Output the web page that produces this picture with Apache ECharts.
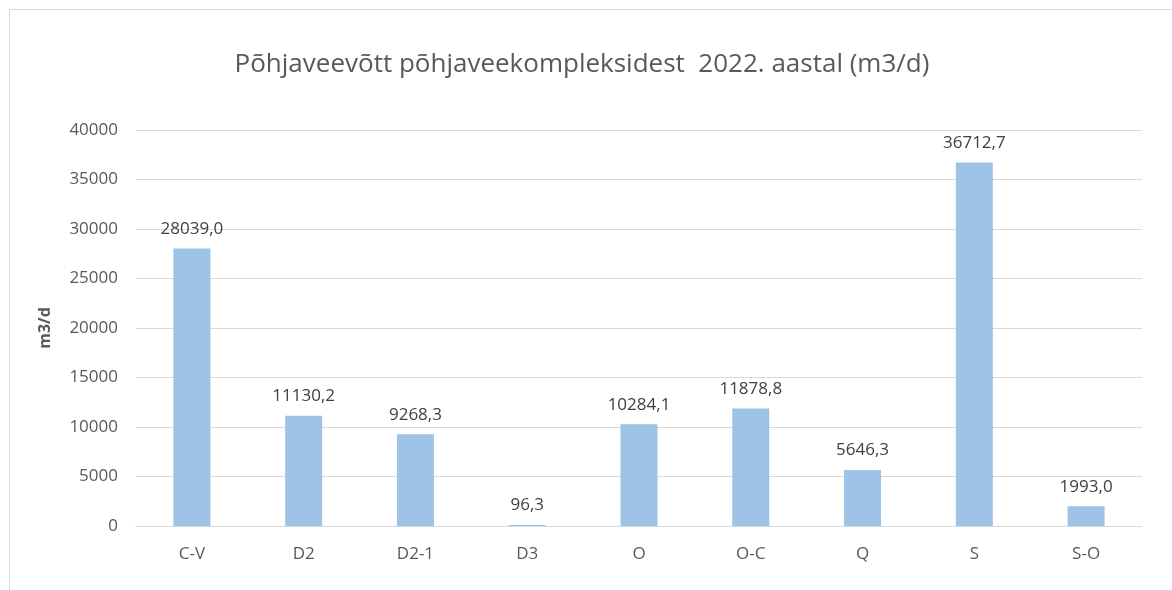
<!DOCTYPE html>
<html><head><meta charset="utf-8">
<script src="https://cdn.jsdelivr.net/npm/echarts@6/dist/echarts.min.js"></script>
<style>html,body{margin:0;padding:0;background:#fff}#c{width:1172px;height:590px}</style>
</head><body><div id="c"></div>
<script>
const categories = ['C-V','D2','D2-1','D3','O','O-C','Q','S','S-O'];
const values = [28039.0, 11130.2, 9268.3, 96.3, 10284.1, 11878.8, 5646.3, 36712.7, 1993.0];
const yTicks = {min: 0, max: 40000, interval: 5000};
const titleText = 'Põhjaveevõtt põhjaveekompleksidest  2022. aastal (m3/d)';
const yName = 'm3/d';
const FONT = '"Open Sans", sans-serif';
const chart = echarts.init(document.getElementById('c'));
chart.setOption({
  animation: false,
  graphic: [{type:'rect', shape:{x:9.5,y:9.5,width:1200,height:700}, style:{fill:'none', stroke:'#d9d9d9', lineWidth:1}, silent:true}],
  title: {text: titleText, left: 577, top: 47, textAlign: 'center',
    textStyle: {fontFamily: FONT, fontSize: 26, fontWeight: 'normal', color: '#595959'}},
  grid: {left: 136, right: 30, top: 130, bottom: 64, containLabel: false},
  xAxis: {type: 'category', data: categories,
    axisLine: {lineStyle: {color: '#d9d9d9', width: 1}}, axisTick: {show: false},
    axisLabel: {fontFamily: FONT, fontSize: 17, color: '#595959', margin: 20}},
  yAxis: {type: 'value', min: yTicks.min, max: yTicks.max, interval: yTicks.interval,
    name: yName, nameLocation: 'middle', nameGap: 83, nameRotate: 90,
    nameTextStyle: {fontFamily: FONT, fontSize: 16, fontWeight: 'bold', color: '#595959'},
    axisLine: {show: false}, axisTick: {show: false},
    axisLabel: {fontFamily: FONT, fontSize: 17, color: '#595959', margin: 18,
      formatter: v => String(v)},
    splitLine: {lineStyle: {color: '#d9d9d9', width: 1}}},
  series: [{type: 'bar', data: values, barWidth: 37, itemStyle: {color: '#9DC3E6'},
    label: {show: true, position: 'top', distance: 11, fontFamily: FONT, fontSize: 17, color: '#404040',
      formatter: p => p.value.toFixed(1).replace('.', ',')}}]
});
</script></body></html>
